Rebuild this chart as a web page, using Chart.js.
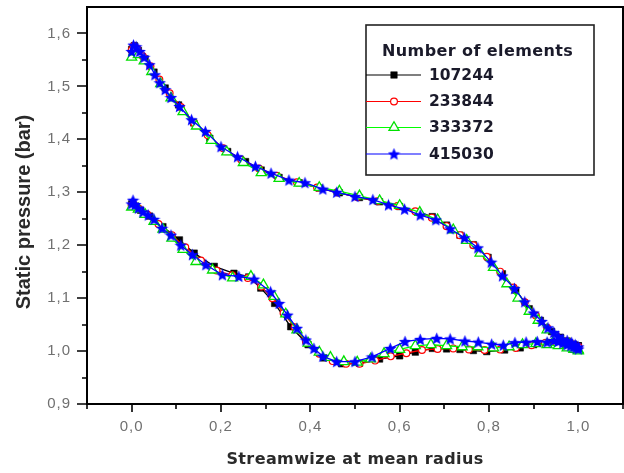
<!DOCTYPE html>
<html><head><meta charset="utf-8">
<script src="https://cdn.jsdelivr.net/npm/chart.js@4.4.1/dist/chart.umd.min.js"></script>
<style>html,body{margin:0;padding:0;background:#fff;overflow:hidden}#wrap{width:624px;height:473px;position:relative}</style>
</head><body><div id="wrap"><canvas id="c" width="624" height="473"></canvas></div>
<script>
// ---------------- data ----------------
const seriesNames = ['107244', '233844', '333372', '415030'];
const legendTitle = 'Number of elements';
const xAxisTitle = 'Streamwize at mean radius';
const yAxisTitle = 'Static pressure (bar)';
const xTickValues = [0, 0.2, 0.4, 0.6, 0.8, 1.0];
const xTickLabels = ['0,0', '0,2', '0,4', '0,6', '0,8', '1,0'];
const yTickValues = [0.9, 1.0, 1.1, 1.2, 1.3, 1.4, 1.5, 1.6];
const yTickLabels = ['0,9', '1,0', '1,1', '1,2', '1,3', '1,4', '1,5', '1,6'];

// 107244
const upperX_107244 = [0, 0.006, 0.015, 0.03, 0.05, 0.075, 0.105, 0.139, 0.175, 0.215, 0.255, 0.29, 0.33, 0.375, 0.42, 0.465, 0.51, 0.555, 0.6, 0.64, 0.673, 0.705, 0.735, 0.765, 0.798, 0.83, 0.86, 0.89, 0.915, 0.94, 0.96, 0.975, 0.99, 1.0];
const upperY_107244 = [1.57, 1.577, 1.568, 1.552, 1.527, 1.497, 1.465, 1.431, 1.402, 1.377, 1.358, 1.342, 1.328, 1.318, 1.308, 1.299, 1.29, 1.282, 1.273, 1.263, 1.254, 1.238, 1.219, 1.201, 1.177, 1.146, 1.115, 1.08, 1.058, 1.037, 1.026, 1.019, 1.013, 1.01];
const lowerX_107244 = [0, 0.005, 0.02, 0.04, 0.07, 0.107, 0.14, 0.185, 0.229, 0.262, 0.289, 0.32, 0.356, 0.395, 0.43, 0.47, 0.51, 0.555, 0.6, 0.635, 0.673, 0.705, 0.735, 0.765, 0.795, 0.835, 0.87, 0.9, 0.93, 0.955, 0.975, 0.99, 1.0];
const lowerY_107244 = [1.278, 1.275, 1.266, 1.255, 1.235, 1.21, 1.185, 1.16, 1.147, 1.14, 1.119, 1.09, 1.046, 1.012, 0.987, 0.976, 0.977, 0.985, 0.991, 0.998, 1.005, 1.004, 1.003, 1.001, 0.999, 1.002, 1.006, 1.012, 1.016, 1.016, 1.014, 1.012, 1.01];

// 233844
const upperX_233844 = [0, 0.004, 0.012, 0.025, 0.042, 0.062, 0.085, 0.11, 0.14, 0.17, 0.205, 0.245, 0.285, 0.325, 0.37, 0.415, 0.46, 0.505, 0.55, 0.595, 0.635, 0.672, 0.705, 0.735, 0.765, 0.795, 0.825, 0.855, 0.88, 0.905, 0.93, 0.95, 0.97, 0.985, 1.0];
const upperY_233844 = [1.568, 1.576, 1.571, 1.557, 1.538, 1.513, 1.487, 1.461, 1.431, 1.408, 1.383, 1.362, 1.345, 1.331, 1.319, 1.309, 1.3, 1.291, 1.283, 1.274, 1.264, 1.252, 1.236, 1.219, 1.2, 1.178, 1.15, 1.12, 1.092, 1.067, 1.044, 1.029, 1.018, 1.013, 1.008];
const lowerX_233844 = [0, 0.004, 0.015, 0.035, 0.06, 0.09, 0.12, 0.155, 0.19, 0.225, 0.26, 0.29, 0.315, 0.34, 0.365, 0.39, 0.42, 0.45, 0.48, 0.51, 0.545, 0.58, 0.615, 0.65, 0.685, 0.72, 0.755, 0.79, 0.825, 0.86, 0.895, 0.925, 0.95, 0.97, 0.985, 1.0];
const lowerY_233844 = [1.275, 1.277, 1.27, 1.258, 1.24, 1.219, 1.196, 1.171, 1.152, 1.143, 1.138, 1.122, 1.1, 1.072, 1.045, 1.018, 0.995, 0.981, 0.976, 0.976, 0.982, 0.99, 0.996, 1.002, 1.004, 1.005, 1.003, 1.002, 1.003, 1.006, 1.011, 1.015, 1.016, 1.014, 1.012, 1.008];

// 333372
const upperX_333372 = [0, 0.005, 0.015, 0.028, 0.045, 0.065, 0.088, 0.115, 0.145, 0.178, 0.213, 0.25, 0.29, 0.33, 0.375, 0.42, 0.465, 0.51, 0.555, 0.6, 0.645, 0.685, 0.72, 0.75, 0.78, 0.81, 0.84, 0.865, 0.89, 0.91, 0.93, 0.95, 0.965, 0.98, 0.99, 1.0];
const upperY_333372 = [1.555, 1.565, 1.56, 1.548, 1.528, 1.505, 1.478, 1.452, 1.425, 1.398, 1.376, 1.356, 1.337, 1.326, 1.317, 1.309, 1.302, 1.293, 1.284, 1.275, 1.262, 1.248, 1.229, 1.209, 1.185, 1.158, 1.127, 1.1, 1.075, 1.058, 1.04, 1.026, 1.018, 1.012, 1.006, 1.002];
const lowerX_333372 = [0, 0.004, 0.015, 0.03, 0.05, 0.07, 0.09, 0.115, 0.144, 0.181, 0.226, 0.267, 0.295, 0.319, 0.345, 0.37, 0.395, 0.42, 0.445, 0.475, 0.505, 0.535, 0.565, 0.6, 0.635, 0.67, 0.705, 0.74, 0.775, 0.81, 0.845, 0.875, 0.905, 0.93, 0.955, 0.975, 0.99, 1.0];
const lowerY_333372 = [1.272, 1.276, 1.268, 1.258, 1.245, 1.23, 1.213, 1.192, 1.169, 1.153, 1.138, 1.141, 1.125, 1.103, 1.07, 1.04, 1.015, 0.998, 0.988, 0.98, 0.979, 0.985, 0.995, 1.003, 1.01, 1.012, 1.01, 1.008, 1.008, 1.006, 1.008, 1.012, 1.014, 1.012, 1.01, 1.006, 1.003, 1.0];

// 415030
const upperX_415030 = [0, 0.004, 0.01, 0.018, 0.028, 0.04, 0.052, 0.063, 0.075, 0.088, 0.107, 0.134, 0.165, 0.2, 0.237, 0.277, 0.312, 0.352, 0.388, 0.428, 0.459, 0.5, 0.54, 0.575, 0.611, 0.646, 0.681, 0.713, 0.745, 0.775, 0.805, 0.83, 0.857, 0.88, 0.9, 0.918, 0.932, 0.945, 0.955, 0.965, 0.975, 0.985, 0.993, 1.0];
const upperY_415030 = [1.566, 1.578, 1.575, 1.566, 1.555, 1.541, 1.522, 1.507, 1.494, 1.479, 1.462, 1.437, 1.415, 1.386, 1.367, 1.349, 1.336, 1.323, 1.318, 1.306, 1.3, 1.292, 1.286, 1.276, 1.268, 1.257, 1.248, 1.231, 1.214, 1.195, 1.168, 1.142, 1.118, 1.093, 1.072, 1.056, 1.044, 1.035, 1.028, 1.022, 1.02, 1.016, 1.012, 1.008];
const lowerX_415030 = [0, 0.003, 0.008, 0.015, 0.025, 0.037, 0.05, 0.068, 0.088, 0.11, 0.136, 0.166, 0.203, 0.24, 0.274, 0.311, 0.33, 0.349, 0.37, 0.39, 0.408, 0.428, 0.459, 0.5, 0.538, 0.579, 0.612, 0.646, 0.683, 0.713, 0.746, 0.776, 0.806, 0.832, 0.858, 0.883, 0.908, 0.93, 0.945, 0.955, 0.965, 0.975, 0.983, 0.99, 0.995, 1.0];
const lowerY_415030 = [1.278, 1.285, 1.277, 1.27, 1.263, 1.257, 1.249, 1.232, 1.219, 1.2, 1.182, 1.163, 1.144, 1.141, 1.136, 1.112, 1.09, 1.068, 1.043, 1.021, 1.005, 0.99, 0.98, 0.98, 0.989, 1.005, 1.018, 1.022, 1.024, 1.023, 1.019, 1.017, 1.013, 1.011, 1.016, 1.017, 1.018, 1.017, 1.02, 1.018, 1.015, 1.012, 1.01, 1.008, 1.006, 1.004];

// ---------------- build ----------------
function loop(ux, uy, lx, ly) {
  const up = ux.map((x, i) => ({x: x, y: uy[i]}));
  const lo = lx.map((x, i) => ({x: x, y: ly[i]})).reverse();
  return up.concat(lo);
}

function makeStar(color, size) {
  const c = document.createElement('canvas');
  c.width = size; c.height = size;
  const g = c.getContext('2d');
  const cx = size / 2, cy = size / 2 + 0.5, R = size / 2, r = R * 0.45;
  g.beginPath();
  for (let i = 0; i < 10; i++) {
    const a = -Math.PI / 2 + i * Math.PI / 5;
    const rad = i % 2 === 0 ? R : r;
    g.lineTo(cx + rad * Math.cos(a), cy + rad * Math.sin(a));
  }
  g.closePath();
  g.fillStyle = color;
  g.fill();
  return c;
}
const starImg = makeStar('#0000ff', 13);

const datasets = [
  {label: seriesNames[0], data: loop(upperX_107244, upperY_107244, lowerX_107244, lowerY_107244),
   borderColor: '#000000', backgroundColor: '#000000', pointStyle: 'rect', pointRadius: 4.6,
   pointBorderColor: '#000000', pointBackgroundColor: '#000000', pointBorderWidth: 0.5, order: 4},
  {label: seriesNames[1], data: loop(upperX_233844, upperY_233844, lowerX_233844, lowerY_233844),
   borderColor: '#ff0000', backgroundColor: '#ffffff', pointStyle: 'circle', pointRadius: 3.4,
   pointBorderColor: '#ff0000', pointBackgroundColor: '#ffffff', pointBorderWidth: 1.2, order: 3},
  {label: seriesNames[2], data: loop(upperX_333372, upperY_333372, lowerX_333372, lowerY_333372),
   borderColor: '#00ff00', backgroundColor: '#ffffff', pointStyle: 'triangle', pointRadius: 5.8,
   pointBorderColor: '#00e000', pointBackgroundColor: '#ffffff', pointBorderWidth: 1.3, order: 2},
  {label: seriesNames[3], data: loop(upperX_415030, upperY_415030, lowerX_415030, lowerY_415030),
   borderColor: '#0000ff', backgroundColor: '#0000ff', pointStyle: starImg, pointRadius: 6.5,
   pointBorderColor: '#0000ff', pointBackgroundColor: '#0000ff', order: 1}
];
datasets.forEach(d => { d.borderWidth = 1.3; d.tension = 0; d.fill = false; });

function labelFor(values, labels, v) {
  for (let i = 0; i < values.length; i++) if (Math.abs(values[i] - v) < 1e-6) return labels[i];
  return '';
}

const framePlugin = {
  id: 'framePlugin',
  beforeDraw(chart) {
    chart.ctx.letterSpacing = '1px';
  },
  afterDraw(chart) {
    const ctx = chart.ctx;
    const a = chart.chartArea;
    const xs = chart.scales.x, ys = chart.scales.y;
    ctx.save();
    ctx.letterSpacing = '0px';
    // frame
    ctx.strokeStyle = '#000';
    ctx.lineWidth = 2;
    ctx.strokeRect(a.left, a.top, a.right - a.left, a.bottom - a.top);
    // ticks
    ctx.lineWidth = 1.6;
    ctx.beginPath();
    xs.ticks.forEach(t => {
      const px = Math.round(xs.getPixelForValue(t.value));
      const major = labelFor(xTickValues, xTickLabels, t.value) !== '';
      ctx.moveTo(px, a.bottom);
      ctx.lineTo(px, a.bottom + (major ? 8 : 5));
    });
    ys.ticks.forEach(t => {
      const py = Math.round(ys.getPixelForValue(t.value));
      if (t.value > 1.61) return;
      const major = labelFor(yTickValues, yTickLabels, t.value) !== '';
      ctx.moveTo(a.left, py);
      ctx.lineTo(a.left - (major ? 10 : 5), py);
    });
    ctx.stroke();

    // axis titles
    ctx.fillStyle = '#2a2a2a';
    ctx.textAlign = 'center';
    ctx.textBaseline = 'middle';
    ctx.font = 'bold 16px "DejaVu Sans"';
    ctx.letterSpacing = '0.4px';
    ctx.fillText(xAxisTitle, (a.left + a.right) / 2, 460);
    ctx.save();
    ctx.translate(24, 212);
    ctx.rotate(-Math.PI / 2);
    ctx.font = 'bold 20px "Liberation Sans"';
    ctx.letterSpacing = '0px';
    ctx.fillText(yAxisTitle, 0, 0);
    ctx.restore();

    // legend
    const lx = 366, ly = 25, lw = 228, lh = 150;
    ctx.fillStyle = '#fff';
    ctx.fillRect(lx, ly, lw, lh);
    ctx.strokeStyle = '#222';
    ctx.lineWidth = 1.6;
    ctx.strokeRect(lx, ly, lw, lh);
    ctx.fillStyle = '#1a1a2a';
    ctx.textAlign = 'left';
    ctx.font = 'bold 16px "DejaVu Sans"';
    ctx.letterSpacing = '0.4px';
    ctx.fillText(legendTitle, 382, 52);
    const rowY = [75, 101.5, 127.5, 154];
    chart.data.datasets.forEach((d, i) => {
      const y = rowY[i];
      ctx.strokeStyle = d.borderColor;
      ctx.lineWidth = 1.2;
      ctx.beginPath();
      ctx.moveTo(lx, y);
      ctx.lineTo(421, y);
      ctx.stroke();
      ctx.fillStyle = d.pointBackgroundColor;
      ctx.strokeStyle = d.pointBorderColor;
      ctx.lineWidth = d.pointBorderWidth || 1;
      Chart.helpers.drawPoint(ctx, {pointStyle: d.pointStyle, radius: d.pointRadius, rotation: 0, borderWidth: d.pointBorderWidth || 1}, 394, y);
      ctx.fillStyle = '#1a1a2a';
      ctx.font = 'bold 15.5px "DejaVu Sans"';
      ctx.letterSpacing = '0px';
      ctx.fillText(d.label, 429, y + 0.5);
    });
    ctx.restore();
  }
};

new Chart(document.getElementById('c'), {
  type: 'line',
  data: {datasets: datasets},
  options: {
    responsive: false,
    animation: false,
    devicePixelRatio: 1,
    layout: {autoPadding: false, padding: {top: 7, right: 1, left: 0, bottom: 0}},
    plugins: {legend: {display: false}, tooltip: {enabled: false}},
    scales: {
      x: {
        type: 'linear', min: -0.1, max: 1.1,
        grid: {display: false, drawTicks: false},
        border: {display: false},
        ticks: {stepSize: 0.1, autoSkip: false, maxRotation: 0, padding: 14,
          color: '#707070', font: {family: 'Liberation Sans', size: 15},
          callback: v => labelFor(xTickValues, xTickLabels, v)},
        afterFit: s => { s.height = 69; s.paddingLeft = 0; s.paddingRight = 0; }
      },
      y: {
        type: 'linear', min: 0.9, max: 1.65,
        grid: {display: false, drawTicks: false},
        border: {display: false},
        ticks: {stepSize: 0.05, autoSkip: false, padding: 16,
          color: '#707070', font: {family: 'Liberation Sans', size: 15},
          callback: v => labelFor(yTickValues, yTickLabels, v)},
        afterFit: s => { s.width = 87; s.paddingTop = 0; s.paddingBottom = 0; }
      }
    }
  },
  plugins: [framePlugin]
});
</script>
</body></html>
